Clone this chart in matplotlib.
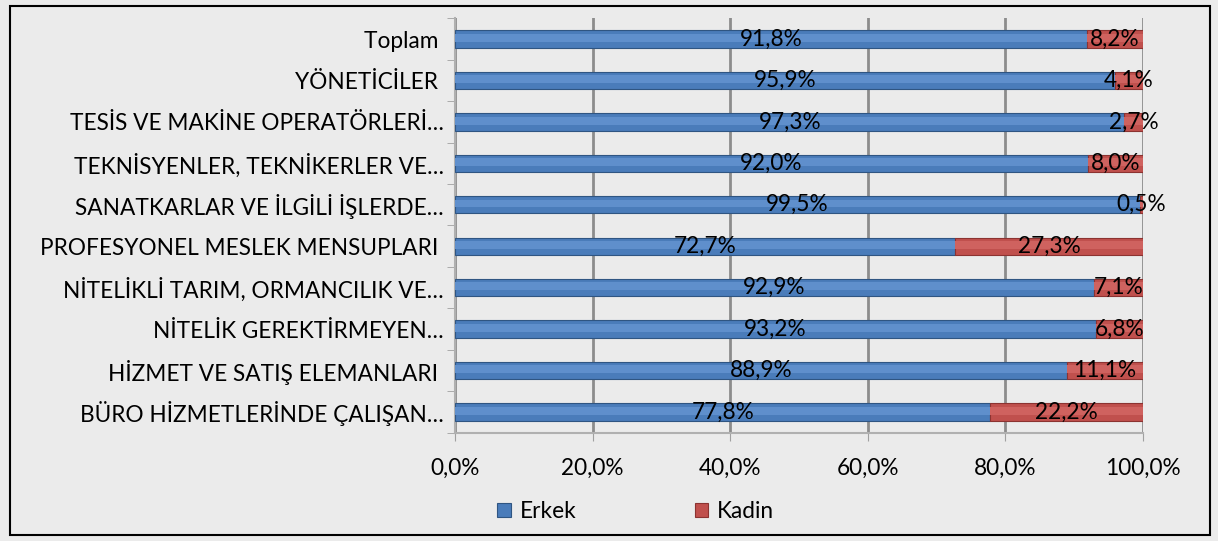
import numpy as np
import matplotlib.pyplot as plt
from matplotlib.patches import Rectangle
from matplotlib.ticker import FuncFormatter

# data (bottom to top as drawn)
categories = ["BÜRO HİZMETLERİNDE ÇALIŞAN…", "HİZMET VE SATIŞ ELEMANLARI ",
              "NİTELİK GEREKTİRMEYEN…", "NİTELİKLİ TARIM, ORMANCILIK VE…",
              "PROFESYONEL MESLEK MENSUPLARI ", "SANATKARLAR VE İLGİLİ İŞLERDE…",
              "TEKNİSYENLER, TEKNİKERLER VE…", "TESİS VE MAKİNE OPERATÖRLERİ…",
              "YÖNETİCİLER ", "Toplam "]
erkek = [77.8, 88.9, 93.2, 92.9, 72.7, 99.5, 92.0, 97.3, 95.9, 91.8]
kadin = [22.2, 11.1, 6.8, 7.1, 27.3, 0.5, 8.0, 2.7, 4.1, 8.2]

plt.rcParams['font.family'] = ['Lato', 'DejaVu Sans']
fs = 16.3

fig = plt.figure(figsize=(12.18, 5.41), dpi=100)
fig.patch.set_facecolor('#ebebeb')
fig.patches.append(Rectangle((10/1218, 6/541), 1200/1218, 529/541, transform=fig.transFigure,
                             fill=False, edgecolor='black', linewidth=1.5))

ax = fig.add_axes([0.3736, 0.2002, 0.5648, 0.766])
ax.set_facecolor('none')
y = np.arange(len(categories))
e = np.array(erkek) / 100
k = np.array(kadin) / 100

h = 0.42
b1 = ax.barh(y, e, height=h, color='#4a7cba', edgecolor='#2f5582', linewidth=0.8, label='Erkek', zorder=3)
b2 = ax.barh(y, k, left=e, height=h, color='#c0504d', edgecolor='#8c3331', linewidth=0.8, label='Kadin', zorder=3)
# soft highlight for the cylinder look
ax.barh(y + 0.03, e, height=h * 0.45, color='#5f8fcc', linewidth=0, zorder=4)
ax.barh(y + 0.03, k, left=e, height=h * 0.45, color='#cf625f', linewidth=0, zorder=4)

for i in range(len(y)):
    ax.text(e[i] / 2, y[i], f"{erkek[i]:.1f}%".replace('.', ','), ha='center', va='center',
            fontsize=fs, zorder=5)
    ax.text(e[i] + k[i] / 2, y[i], f"{kadin[i]:.1f}%".replace('.', ','), ha='center', va='center',
            fontsize=fs, zorder=5)

ax.set_xlim(0, 1)
ax.set_ylim(-0.5, len(y) - 0.5)
ax.set_xticks(np.arange(0, 1.01, 0.2))
ax.xaxis.set_major_formatter(FuncFormatter(lambda v, p: f"{v*100:.1f}%".replace('.', ',')))
ax.set_yticks(y)
ax.set_yticklabels(categories)
ax.set_yticks(np.arange(-0.5, len(y), 1), minor=True)
ax.tick_params(axis='y', which='major', length=0, labelsize=fs, pad=8)
ax.tick_params(axis='y', which='minor', length=6, color='#a0a0a0')
ax.tick_params(axis='x', length=6, color='#a0a0a0', labelsize=fs, pad=12)
ax.grid(axis='x', color='#8c8c8c', linewidth=2, zorder=0)
for s in ['top', 'right']:
    ax.spines[s].set_visible(False)
for s in ['left', 'bottom']:
    ax.spines[s].set_color('#b0b0b0')
    ax.spines[s].set_linewidth(1.5)

fig.legend(handles=[b1, b2], labels=['Erkek', 'Kadin'], loc='center', bbox_to_anchor=(0.522, 0.055),
           ncol=2, frameon=False, fontsize=fs, handlelength=0.6, handleheight=0.6,
           handletextpad=0.4, columnspacing=5.2)

fig.savefig('out.png', dpi=100, facecolor=fig.get_facecolor())
